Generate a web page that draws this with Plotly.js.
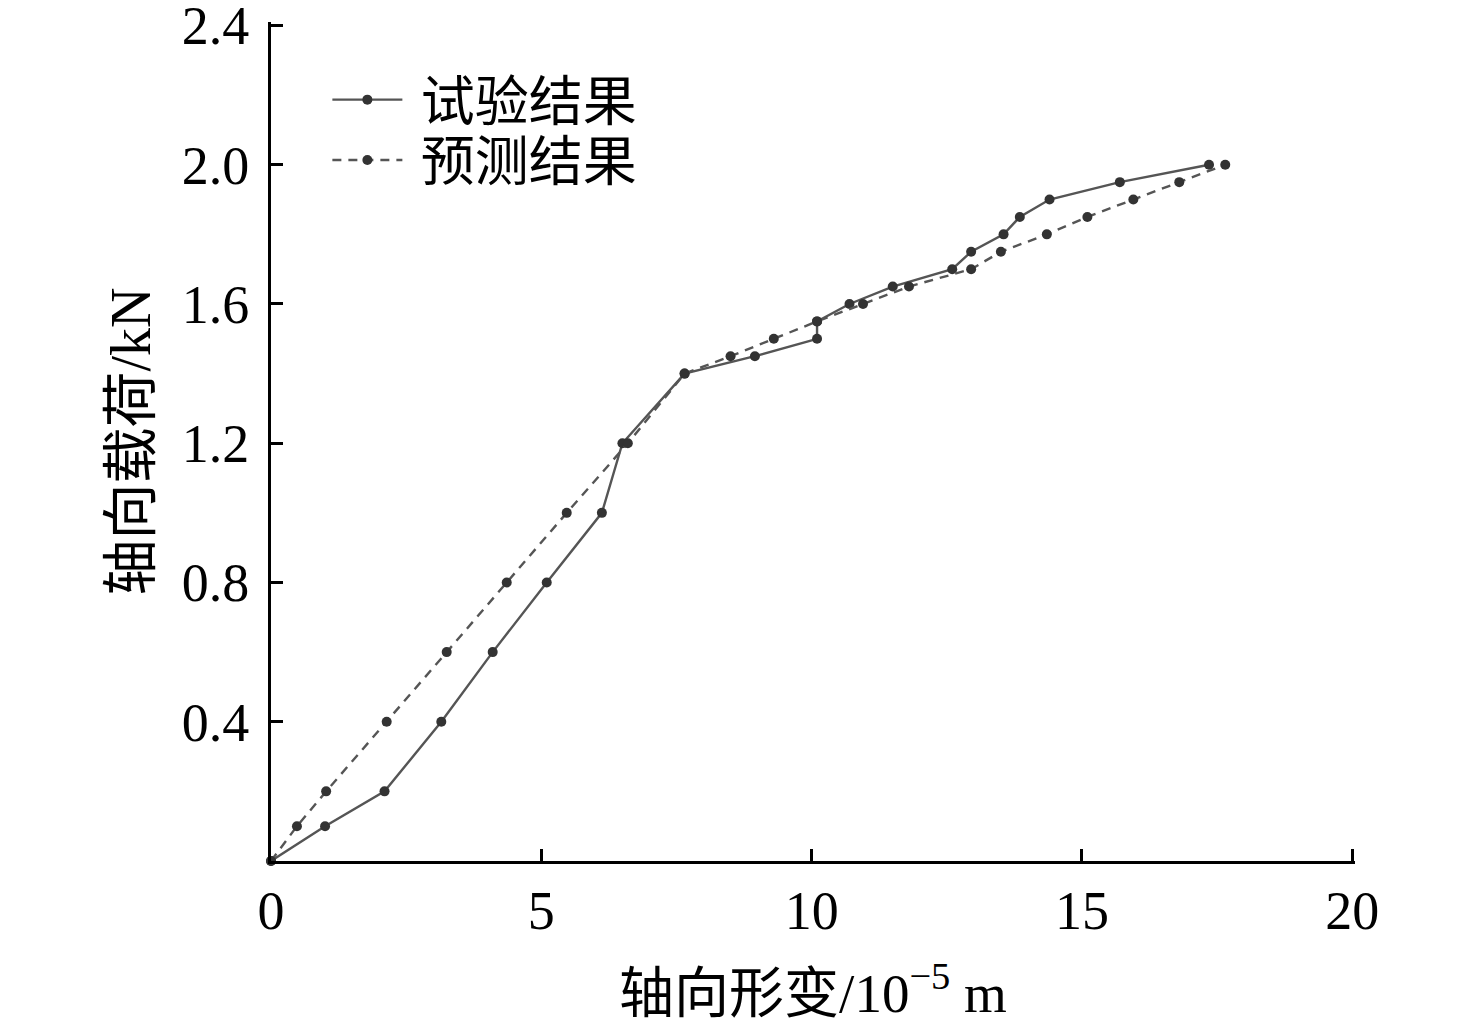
<!DOCTYPE html>
<html>
<head>
<meta charset="utf-8">
<script src="https://cdn.plot.ly/plotly-3.0.1.min.js"></script>
<style>
  html, body { margin: 0; padding: 0; background: #fff; }
  #chart { width: 1476px; height: 1030px; }
</style>
</head>
<body>
<div id="chart"></div>
<script>
// test result (solid line)
const testX = [0, 1.0, 2.1, 3.15, 4.1, 5.1, 6.12, 6.5, 7.65, 8.95, 10.1, 10.1, 10.7, 11.5, 12.6, 12.95, 13.55, 13.85, 14.4, 15.7, 17.35];
const testY = [0, 0.1, 0.2, 0.4, 0.6, 0.8, 1.0, 1.2, 1.4, 1.45, 1.5, 1.55, 1.6, 1.65, 1.7, 1.75, 1.8, 1.85, 1.9, 1.95, 2.0];

// predicted result (dashed line)
const predX = [0, 0.48, 1.02, 2.14, 3.25, 4.36, 5.47, 6.6, 7.65, 8.5, 9.3, 10.1, 10.95, 11.8, 12.95, 13.5, 14.35, 15.1, 15.95, 16.8, 17.65];
const predY = [0, 0.1, 0.2, 0.4, 0.6, 0.8, 1.0, 1.2, 1.4, 1.45, 1.5, 1.55, 1.6, 1.65, 1.7, 1.75, 1.8, 1.85, 1.9, 1.95, 2.0];

const xTicks = [0, 5, 10, 15, 20];
const yTicks = [0.4, 0.8, 1.2, 1.6, 2.0, 2.4];

const seriesNames = ['试验结果', '预测结果'];

const fontFamily = '"Liberation Serif", "Noto Sans CJK SC", serif';

const data = [
  {
    x: testX,
    y: testY,
    name: '\u00a0' + seriesNames[0],
    legend: 'legend',
    type: 'scatter',
    mode: 'lines+markers',
    line: {color: '#555', width: 2.4},
    marker: {color: '#333', size: 10},
    cliponaxis: false
  },
  {
    x: predX,
    y: predY,
    name: '\u00a0' + seriesNames[1],
    legend: 'legend2',
    type: 'scatter',
    mode: 'lines+markers',
    line: {color: '#555', width: 2.4, dash: '9px,7px'},
    marker: {color: '#333', size: 10},
    cliponaxis: false
  }
];

// one legend per row so the row spacing can match the original
const legendBase = {
  xanchor: 'left',
  yanchor: 'middle',
  bgcolor: 'rgba(0,0,0,0)',
  font: {family: fontFamily, size: 54, color: '#000'},
  itemwidth: 70
};

const layout = {
  width: 1476,
  height: 1030,
  margin: {l: 271, r: 121, t: 22, b: 169},
  paper_bgcolor: '#fff',
  plot_bgcolor: '#fff',
  font: {family: fontFamily, size: 54, color: '#000'},
  showlegend: true,
  legend: Object.assign({}, legendBase, {x: 0.052, y: 0.907}),
  legend2: Object.assign({}, legendBase, {x: 0.052, y: 0.835}),
  xaxis: {
    range: [0, 20.05],
    tickvals: xTicks,
    ticktext: xTicks.map(String),
    ticks: 'inside',
    ticklen: 12,
    tickwidth: 3,
    tickcolor: '#000',
    showline: true,
    linewidth: 3,
    linecolor: '#000',
    showgrid: false,
    zeroline: false,
    ticklabelstandoff: 0,
    ticklabeloverflow: 'allow',
    tickfont: {family: fontFamily, size: 54},
    title: {
      text: '轴向形变/10<sup>−5</sup> m',
      font: {family: fontFamily, size: 55},
      standoff: 34
    }
  },
  yaxis: {
    range: [0, 2.41],
    tickvals: yTicks,
    ticktext: yTicks.map(v => v.toFixed(1)),
    ticks: 'inside',
    ticklen: 12,
    tickwidth: 3,
    tickcolor: '#000',
    showline: true,
    linewidth: 3,
    linecolor: '#000',
    showgrid: false,
    zeroline: false,
    ticklabelstandoff: 8,
    ticklabeloverflow: 'allow',
    tickfont: {family: fontFamily, size: 54},
    title: {
      text: '轴向载荷/kN',
      font: {family: fontFamily, size: 56},
      standoff: 14
    }
  }
};

Plotly.newPlot('chart', data, layout, {displayModeBar: false, staticPlot: true});
</script>
</body>
</html>
